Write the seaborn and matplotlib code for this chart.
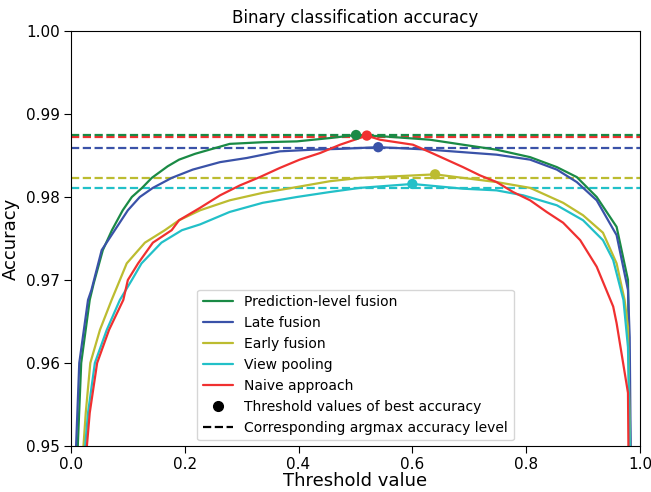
import pandas as pd
import matplotlib.pyplot as plt
import seaborn as sns
from matplotlib.lines import Line2D

# threshold / accuracy pairs
pred_x = [0.012, 0.018, 0.033, 0.040, 0.056, 0.072, 0.091, 0.107, 0.125, 0.142, 0.170, 0.19, 0.218,
          0.279, 0.337, 0.397, 0.455, 0.501, 0.55, 0.631, 0.689, 0.748, 0.807, 0.854, 0.889,
          0.924, 0.959, 0.979, 0.985]
pred_y = [0.950, 0.960, 0.9676, 0.9696, 0.9736, 0.9760, 0.9784, 0.9800, 0.9811, 0.9823, 0.9837, 0.9845, 0.9852,
          0.9864, 0.9866, 0.9867, 0.9871, 0.98747, 0.9873, 0.9869, 0.9863, 0.9857, 0.9848, 0.9836, 0.9824,
          0.9800, 0.9764, 0.9700, 0.940]

late_x = [0.009, 0.0146, 0.030, 0.036, 0.054, 0.077, 0.100, 0.121, 0.144, 0.177, 0.214, 0.262,
          0.309, 0.367, 0.425, 0.473, 0.54, 0.573, 0.631, 0.689, 0.748, 0.807, 0.854, 0.889,
          0.924, 0.959, 0.979, 0.982, 0.985]
late_y = [0.950, 0.960, 0.9676, 0.9688, 0.9736, 0.9760, 0.9784, 0.9800, 0.9811, 0.9823, 0.9833, 0.9842,
          0.9847, 0.9855, 0.9857, 0.9858, 0.9860, 0.9859, 0.9857, 0.9854, 0.9851, 0.9845, 0.9833, 0.9818,
          0.9796, 0.9754, 0.9688, 0.9631, 0.940]

early_x = [0.022, 0.026, 0.034, 0.051, 0.0715, 0.086, 0.098, 0.130, 0.165, 0.19, 0.227, 0.279,
           0.337, 0.397, 0.455, 0.508, 0.573, 0.64, 0.689, 0.748, 0.807, 0.865, 0.900, 0.935,
           0.959, 0.973, 0.979, 0.985]
early_y = [0.950, 0.954, 0.960, 0.964, 0.9676, 0.9700, 0.9720, 0.9745, 0.9760, 0.9772, 0.9784, 0.9796,
           0.9805, 0.9812, 0.9819, 0.9823, 0.9825, 0.98273, 0.9823, 0.9818, 0.9811, 0.9793, 0.9778, 0.9757,
           0.9720, 0.9676, 0.9643, 0.940]

view_x = [0.025, 0.030, 0.042, 0.063, 0.086, 0.107, 0.124, 0.159, 0.195, 0.227, 0.279, 0.337,
          0.397, 0.455, 0.508, 0.60, 0.689, 0.748, 0.795, 0.854, 0.900, 0.935, 0.953, 0.971,
          0.979, 0.985]
view_y = [0.950, 0.954, 0.960, 0.964, 0.9676, 0.9700, 0.9720, 0.9745, 0.9760, 0.9767, 0.9782, 0.9793,
          0.9800, 0.9806, 0.9811, 0.98157, 0.9810, 0.9808, 0.9802, 0.9790, 0.9772, 0.9748, 0.9724, 0.9676,
          0.9619, 0.940]

naive_x = [0.028, 0.033, 0.046, 0.067, 0.092, 0.100, 0.118, 0.144, 0.177, 0.19, 0.227, 0.262,
           0.297, 0.332, 0.367, 0.402, 0.438, 0.473, 0.52, 0.543, 0.601, 0.631, 0.660, 0.689,
           0.719, 0.748, 0.777, 0.807, 0.836, 0.865, 0.895, 0.924, 0.953, 0.959, 0.979, 0.981]
naive_y = [0.950, 0.954, 0.960, 0.964, 0.9676, 0.9700, 0.9720, 0.9745, 0.9760, 0.9772, 0.9787, 0.9802,
           0.9814, 0.9824, 0.9835, 0.9845, 0.9853, 0.9863, 0.9874, 0.9869, 0.9863, 0.9854, 0.9845, 0.9836,
           0.9826, 0.9818, 0.9806, 0.9796, 0.9782, 0.9769, 0.9748, 0.9716, 0.9668, 0.9648, 0.9564, 0.940]

methods = ['Prediction-level fusion', 'Late fusion', 'Early fusion', 'View pooling', 'Naive approach']
colors = ['#1a8a45', '#3a52a8', '#bcbc30', '#22c0c8', '#f03030']

best_thr = [0.501, 0.54, 0.64, 0.60, 0.52]
best_acc = [0.98747, 0.9860, 0.98273, 0.98157, 0.9874]
argmax_level = [0.98747, 0.98587, 0.98232, 0.98112, 0.98727]

series = {
    'Prediction-level fusion': (pred_x, pred_y),
    'Late fusion': (late_x, late_y),
    'Early fusion': (early_x, early_y),
    'View pooling': (view_x, view_y),
    'Naive approach': (naive_x, naive_y),
}
frames = [pd.DataFrame({'threshold': xs, 'accuracy': ys, 'method': name})
          for name, (xs, ys) in series.items()]
df = pd.concat(frames, ignore_index=True)
best = pd.DataFrame({'threshold': best_thr, 'accuracy': best_acc, 'method': methods})
palette = dict(zip(methods, colors))

sns.set_style("ticks")
plt.rcParams.update({'text.color': 'black', 'axes.labelcolor': 'black',
                     'xtick.color': 'black', 'ytick.color': 'black',
                     'axes.edgecolor': 'black'})
fig = plt.figure(figsize=(6.51, 4.92), dpi=100)
ax = fig.add_axes([0.109, 0.0935, 0.874, 0.8435])

# dashed argmax levels first, in reverse so green sits on top
for lvl, c in reversed(list(zip(argmax_level, colors))):
    ax.axhline(lvl, color=c, ls='--', lw=1.6, zorder=1)

sns.lineplot(data=df, x='threshold', y='accuracy', hue='method', palette=palette,
             hue_order=methods, estimator=None, sort=False, lw=1.6, legend=False, ax=ax, zorder=2)
sns.scatterplot(data=best, x='threshold', y='accuracy', hue='method', palette=palette,
                hue_order=methods, s=55, edgecolor='none', legend=False, ax=ax, zorder=3)

ax.set_xlim(0, 1)
ax.set_ylim(0.95, 1.0)
ax.set_xticks([0.0, 0.2, 0.4, 0.6, 0.8, 1.0])
ax.set_yticks([0.95, 0.96, 0.97, 0.98, 0.99, 1.00])
ax.set_yticklabels(['0.95', '0.96', '0.97', '0.98', '0.99', '1.00'])
ax.tick_params(labelsize=11, length=5, pad=3)
ax.set_title('Binary classification accuracy', fontsize=12)
ax.set_xlabel('Threshold value', fontsize=13, labelpad=0)
ax.set_ylabel('Accuracy', fontsize=13)

handles = [Line2D([], [], color=c, lw=1.6) for c in colors]
handles.append(Line2D([], [], color='black', marker='o', ls='none', markersize=7))
handles.append(Line2D([], [], color='black', ls='--', lw=1.6))
labels = methods + ['Threshold values of best accuracy', 'Corresponding argmax accuracy level']
ax.legend(handles, labels, loc='lower center', fontsize=10, frameon=True,
          handlelength=2.2, labelspacing=0.5, borderaxespad=0.4)

plt.savefig('out.png', dpi=100)
